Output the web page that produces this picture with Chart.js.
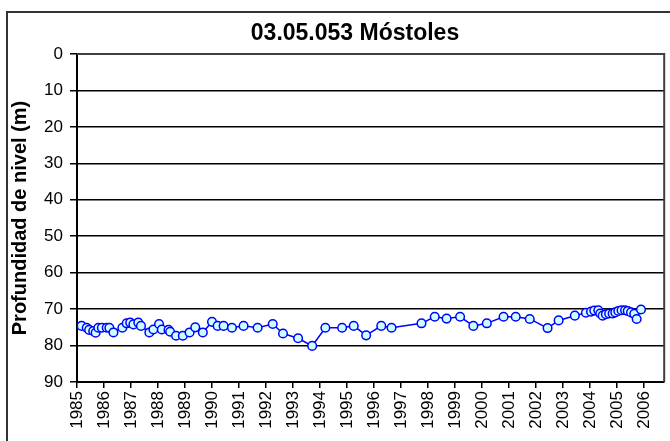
<!DOCTYPE html>
<html>
<head>
<meta charset="utf-8">
<script src="https://cdn.jsdelivr.net/npm/chart.js@4/dist/chart.umd.min.js"></script>
<style>
  html, body { margin: 0; padding: 0; background: #fff; }
  #wrap { width: 670px; height: 441px; }
</style>
</head>
<body>
<div id="wrap"><canvas id="myChart"></canvas></div>
<script>
// sample dates (decimal years) and depth to water (m)
var years = [1985.17,1985.36,1985.45,1985.6,1985.69,1985.79,1985.92,1986.1,1986.2,1986.35,1986.68,1986.84,1986.97,
  1987.09,1987.27,1987.37,1987.68,1987.83,1988.04,1988.14,1988.39,1988.45,1988.67,1988.92,1989.17,1989.38,1989.66,
  1990.0,1990.21,1990.43,1990.74,1991.17,1991.69,1992.25,1992.63,1993.19,1993.71,1994.2,1994.82,1995.25,1995.71,1996.27,1996.65,
  1997.76,1998.25,1998.69,1999.19,1999.68,2000.18,2000.8,2001.25,2001.77,2002.43,2002.84,2003.44,2003.85,
  2004.04,2004.16,2004.31,2004.38,2004.47,2004.59,2004.71,2004.84,2004.94,2005.05,2005.17,2005.3,2005.4,2005.52,2005.64,2005.73,2005.89];
var depths = [74.6,75.1,75.7,76.0,76.5,75.1,75.1,75.1,75.1,76.4,75.1,73.9,73.7,
  74.2,73.7,74.6,76.4,75.6,74.1,75.6,75.7,76.2,77.3,77.3,76.4,75.0,76.4,
  73.5,74.6,74.6,75.1,74.6,75.1,74.1,76.7,78.0,80.1,75.1,75.1,74.6,77.2,74.6,75.1,
  73.9,72.1,72.6,72.1,74.6,73.9,72.1,72.1,72.7,75.2,73.1,71.8,71.0,
  70.7,70.4,70.3,71.2,71.8,71.4,71.2,71.2,70.9,70.5,70.3,70.3,70.5,70.9,71.3,72.7,70.1];
var yearTicks = ['1985','1986','1987','1988','1989','1990','1991','1992','1993','1994','1995',
  '1996','1997','1998','1999','2000','2001','2002','2003','2004','2005','2006'];
var depthTicks = [0,10,20,30,40,50,60,70,80,90];
var chartTitle = '03.05.053 Móstoles';
var yTitle = 'Profundidad de nivel (m)';

var points = years.map(function (y, i) { return { x: y, y: depths[i] }; });

var fontFam = '"Liberation Sans", Arial, sans-serif';

// outer frame, plot border and title
const framePlugin = {
    id: 'frame',
    beforeDraw(chart) {
        const ctx = chart.ctx;
        ctx.save();
        ctx.fillStyle = '#fff';
        ctx.fillRect(0, 0, chart.width, chart.height);
        ctx.strokeStyle = '#333';
        ctx.lineWidth = 2;
        ctx.beginPath();
        ctx.moveTo(7, chart.height);
        ctx.lineTo(7, 12);
        ctx.lineTo(chart.width, 12);
        ctx.stroke();
        ctx.restore();
    },
    afterDraw(chart) {
        const ctx = chart.ctx;
        const a = chart.chartArea;
        ctx.save();
        ctx.strokeStyle = '#404040';
        ctx.lineWidth = 2;
        ctx.beginPath();
        ctx.moveTo(a.left, a.top);
        ctx.lineTo(a.right, a.top);
        ctx.lineTo(a.right, a.bottom);
        ctx.stroke();
        ctx.fillStyle = '#000';
        ctx.font = 'bold 23px ' + fontFam;
        ctx.textAlign = 'center';
        ctx.textBaseline = 'middle';
        ctx.fillText(chartTitle, 355, 34);
        ctx.restore();
    }
};

const config = {
    type: 'line',
    data: {
        datasets: [{
            label: 'Profundidad',
            data: points,
            borderColor: '#0000ff',
            borderWidth: 1.5,
            backgroundColor: '#ccffff',
            pointBorderColor: '#0000ff',
            pointBackgroundColor: '#ccffff',
            pointBorderWidth: 1.5,
            pointRadius: 4.3,
            tension: 0
        }]
    },
    options: {
        responsive: true,
        maintainAspectRatio: false,
        animation: false,
        layout: {
            padding: { left: 8, top: 54, right: 3, bottom: 0 }
        },
        plugins: {
            legend: { display: false },
            title: { display: false },
            tooltip: { enabled: false }
        },
        scales: {
            x: {
                type: 'linear',
                min: 1985,
                max: 2006.75,
                afterBuildTicks: function (scale) {
                    scale.ticks = yearTicks.map(function (t) { return { value: Number(t) }; });
                },
                afterFit: function (scale) { scale.height = 59; },
                ticks: {
                    autoSkip: false,
                    minRotation: 90,
                    maxRotation: 90,
                    padding: 3,
                    color: '#000',
                    font: { size: 17, family: fontFam },
                    callback: function (v) { return String(v); }
                },
                grid: {
                    drawOnChartArea: false,
                    drawTicks: true,
                    tickLength: 6,
                    color: '#000',
                    lineWidth: 1.5
                },
                border: { color: '#000', width: 2 }
            },
            y: {
                type: 'linear',
                reverse: true,
                min: 0,
                max: 90,
                afterBuildTicks: function (scale) {
                    scale.ticks = depthTicks.map(function (t) { return { value: t }; });
                },
                afterFit: function (scale) { scale.width = 69; },
                ticks: {
                    padding: 7,
                    color: '#000',
                    font: { size: 17, family: fontFam }
                },
                grid: {
                    color: '#000',
                    lineWidth: 1.5,
                    tickLength: 7
                },
                border: { color: '#000', width: 2 },
                title: {
                    display: true,
                    text: yTitle,
                    color: '#000',
                    padding: { top: 0, bottom: 0 },
                    font: { size: 20, weight: 'bold', family: fontFam }
                }
            }
        }
    },
    plugins: [framePlugin]
};
new Chart(document.getElementById('myChart'), config);
</script>
</body>
</html>
